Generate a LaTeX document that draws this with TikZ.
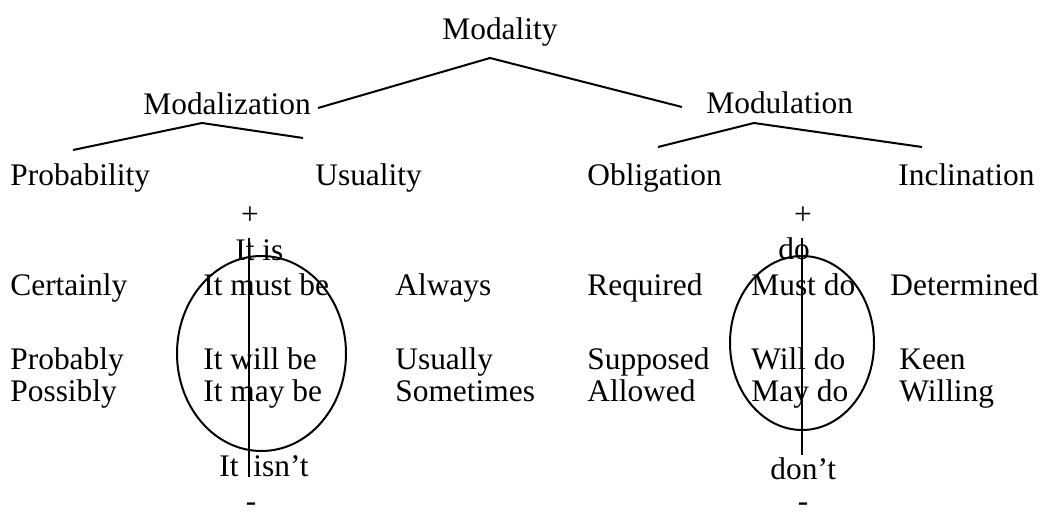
\documentclass[tikz,border=0pt]{standalone}
\usepackage{fontspec}
\setmainfont{Liberation Serif}
\usetikzlibrary{shapes.geometric}
\begin{document}
\begin{tikzpicture}[x=0.5pt,y=-0.5pt,
  lbl/.style={anchor=base west,inner sep=0pt,font=\fontsize{15.7}{18}\selectfont},
  sgn/.style={anchor=center,inner sep=0pt,font=\fontsize{15.7}{18}\selectfont},
  branch/.style={line width=1pt,line join=miter},
  axisline/.style={line width=1pt},
  ring/.style={draw,line width=1pt,ellipse,inner sep=0pt}]
\useasboundingbox (0,0) rectangle (1043,512);

% top of the tree
\node[lbl] (modality) at (442,40) {Modality};
\node[lbl] (modalization) at (143,115) {Modalization};
\node[lbl] (modulation) at (706,114) {Modulation};

% second level
\node[lbl] (probability) at (10,186) {Probability};
\node[lbl] (usuality) at (315,186) {Usuality};
\node[lbl] (obligation) at (587,186) {Obligation};
\node[lbl] (inclination) at (898,186) {Inclination};

% branch points
\coordinate (t-apex) at (490,58);
\coordinate (t-left) at (318,108);
\coordinate (t-right) at (682,107);
\coordinate (a-apex) at (202,123);
\coordinate (a-left) at (73,150);
\coordinate (a-right) at (303,138);
\coordinate (b-apex) at (754,123);
\coordinate (b-left) at (658,147);
\coordinate (b-right) at (922,147);

\draw[branch] (t-left) -- (t-apex) -- (t-right);
\draw[branch] (a-left) -- (a-apex) -- (a-right);
\draw[branch] (b-left) -- (b-apex) -- (b-right);

% polarity scale, modalization side
\node[sgn] (plusA) at (250,216) {+};
\node[lbl] (itis) at (235,261) {It is};
\node[lbl] (certainly) at (10,296) {Certainly};
\node[lbl] (mustbe) at (203,296) {It must be};
\node[lbl] (always) at (395,296) {Always};
\node[lbl] (probably) at (10,370) {Probably};
\node[lbl] (willbe) at (203,370) {It will be};
\node[lbl] (usually) at (395,370) {Usually};
\node[lbl] (possibly) at (10,402) {Possibly};
\node[lbl] (maybe) at (203,402) {It may be};
\node[lbl] (sometimes) at (395,402) {Sometimes};
\node[lbl] (it) at (219,477) {It};
\node[lbl] (isnt) at (253,477) {isn’t};
\node[lbl] (minusA) at (245.5,511) {-};

\coordinate (axisA-top) at (249,238);
\coordinate (axisA-bot) at (249,477);
\draw[axisline] (axisA-top) -- (axisA-bot);
\node[ring,minimum width=84.5pt,minimum height=97.5pt] (ringA) at (261.5,353.5) {};

% polarity scale, modulation side
\node[sgn] (plusB) at (803,216) {+};
\node[lbl] (do) at (778,260) {do};
\node[lbl] (required) at (587,296) {Required};
\node[lbl] (mustdo) at (751,296) {Must do};
\node[lbl] (determined) at (890,296) {Determined};
\node[lbl] (supposed) at (587,370) {Supposed};
\node[lbl] (willdo) at (751,370) {Will do};
\node[lbl] (keen) at (899,370) {Keen};
\node[lbl] (allowed) at (587,402) {Allowed};
\node[lbl] (maydo) at (751,402) {May do};
\node[lbl] (willing) at (899,402) {Willing};
\node[lbl] (dont) at (770,480) {don’t};
\node[lbl] (minusB) at (797.5,511) {-};

\coordinate (axisB-top) at (802,238);
\coordinate (axisB-bot) at (802,455);
\draw[axisline] (axisB-top) -- (axisB-bot);
\node[ring,minimum width=72pt,minimum height=87pt] (ringB) at (802,343) {};
\end{tikzpicture}
\end{document}
